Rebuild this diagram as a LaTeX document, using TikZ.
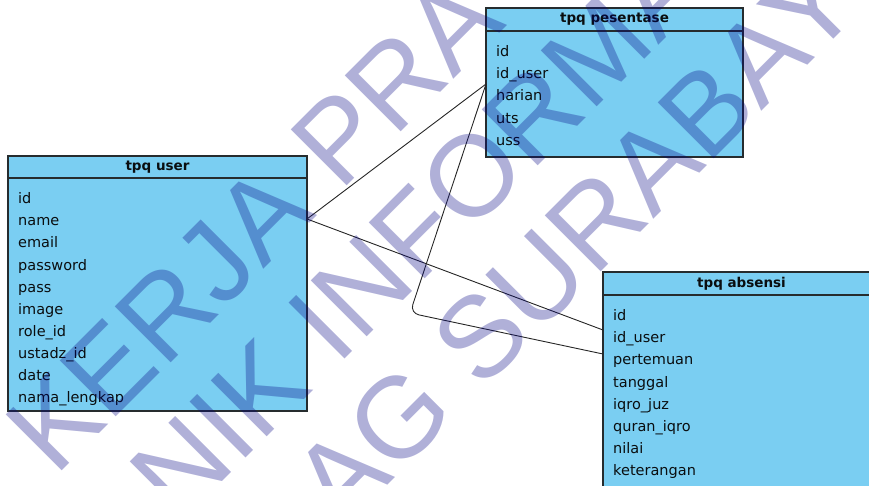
\documentclass[tikz,border=0pt]{standalone}
\usepackage{fontspec}
\usetikzlibrary{positioning}
\newfontfamily\tablefont{DejaVu Sans}
\newfontfamily\markfont{Liberation Sans}
\definecolor{tblblue}{RGB}{122,206,242}
\definecolor{tblline}{RGB}{38,44,46}
\definecolor{tbltext}{RGB}{10,14,16}
\definecolor{markblue}{RGB}{0,0,130}
\tikzset{
  tblhead/.style={draw=tblline, fill=tblblue, line width=1.4pt, outer sep=0pt, inner sep=0pt,
    font=\tablefont\bfseries\fontsize{13.5}{16}\selectfont, text=tbltext},
  tblbox/.style={draw=tblline, fill=tblblue, line width=1.4pt, outer sep=0pt, inner sep=0pt},
  tblrows/.style={font=\tablefont\fontsize{14.5}{22.1}\selectfont, align=left, inner sep=0pt, text=tbltext},
  link/.style={draw=black!85, line width=0.9pt},
  wmark/.style={font=\markfont\fontsize{115}{115}\selectfont, text=markblue, text opacity=0.31, inner sep=0pt, rotate=45},
}
\begin{document}
\begin{tikzpicture}[x=1pt,y=-1pt]
		\useasboundingbox (0,0) rectangle (869,486);
		\clip (0,0) rectangle (869,486);
		%
		\node[tblhead, anchor=north west, minimum width=299pt, minimum height=22pt] (userhead) at (8,156) {tpq user};
		\node[tblbox, below=0pt of userhead, minimum width=299pt, minimum height=233pt] (userbox) {};
		\node[tblrows, below right=14.5pt and 10pt of userbox.north west] (userrows) {id\\name\\email\\password\\pass\\image\\role\_id\\ustadz\_id\\date\\nama\_lengkap};
		%
		\node[tblhead, anchor=north west, minimum width=257pt, minimum height=23pt] (peshead) at (486,8) {tpq pesentase};
		\node[tblbox, below=0pt of peshead, minimum width=257pt, minimum height=126pt] (pesbox) {};
		\node[tblrows, below right=14.5pt and 10pt of pesbox.north west] (pesrows) {id\\id\_user\\harian\\uts\\uss};
		%
		\node[tblhead, anchor=north west, minimum width=277pt, minimum height=23pt] (abshead) at (603,272) {tpq absensi};
		\node[tblbox, below=0pt of abshead, minimum width=277pt, minimum height=210pt] (absbox) {};
		\node[tblrows, below right=14.5pt and 10pt of absbox.north west] (absrows) {id\\id\_user\\pertemuan\\tanggal\\iqro\_juz\\quran\_iqro\\nilai\\keterangan};
		%
		\coordinate (userport) at ([yshift=-41pt]userbox.north east);
		\coordinate (pesport) at ([yshift=-53pt]pesbox.north west);
		\coordinate (absport) at ([yshift=-35pt]absbox.north west);
		\coordinate (absport2) at ([yshift=-59pt]absbox.north west);
		\coordinate (pesbend) at (410,313);
		\draw[link] (userport) -- (pesport);
		\draw[link] (userport) -- (absport);
		\draw[link, rounded corners=9pt] (pesport) -- (pesbend) -- (absport2);
		%
		\node[wmark] (markone) at (254,224) {KERJA PRA};
		\node[wmark] (marktwo) at (418,230) {NIK INFORMA};
		\node[wmark] (markthree) at (575,242) {AG SURABAY};
	\end{tikzpicture}
\end{document}
